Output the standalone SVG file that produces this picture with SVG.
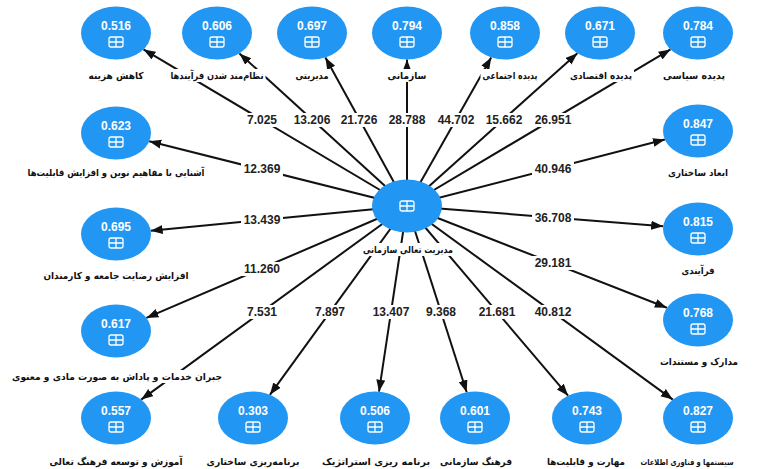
<svg xmlns="http://www.w3.org/2000/svg" xmlns:xlink="http://www.w3.org/1999/xlink" width="760" height="469" viewBox="0 0 760 469">
<style>
.nd{fill:#2196f3}
.val{font-family:"Liberation Sans",Arial,sans-serif;font-weight:bold;font-size:12px;fill:#ffffff;text-anchor:middle}
.lab{font-family:"DejaVu Sans",sans-serif;font-weight:bold;font-size:9.5px;fill:#111;text-anchor:middle}
.el{font-family:"Liberation Sans",Arial,sans-serif;font-weight:bold;font-size:12px;fill:#222;text-anchor:middle}
.ln{stroke:#111;stroke-width:2;fill:none;marker-end:url(#ah)}
.bg{fill:#ffffff}
</style>
<defs>
<marker id="ah" markerUnits="userSpaceOnUse" markerWidth="13" markerHeight="10" refX="12" refY="4.5" orient="auto">
<path d="M0,0 L12,4.5 L0,9 z" fill="#111"/>
</marker>
<g id="plus">
<rect x="-7" y="-5" width="14" height="10" rx="2" fill="none" stroke="#fff" stroke-width="1.3"/>
<path d="M0,-5 V5 M-7,0 H7" stroke="#fff" stroke-width="1.3"/>
</g>
</defs>
<rect width="760" height="469" fill="#ffffff"/>
<g id="connectors">
<line class="ln" x1="407" y1="206" x2="143.5" y2="49.4"/>
<line class="ln" x1="407" y1="206" x2="239.4" y2="53.4"/>
<line class="ln" x1="407" y1="206" x2="325.4" y2="57.5"/>
<line class="ln" x1="407" y1="206" x2="407" y2="59.5"/>
<line class="ln" x1="407" y1="206" x2="491.2" y2="57.4"/>
<line class="ln" x1="407" y1="206" x2="577.4" y2="53.2"/>
<line class="ln" x1="407" y1="206" x2="670.5" y2="49.4"/>
<line class="ln" x1="407" y1="206" x2="664.9" y2="139.5"/>
<line class="ln" x1="407" y1="206" x2="663.2" y2="226.2"/>
<line class="ln" x1="407" y1="206" x2="666.9" y2="307.8"/>
<line class="ln" x1="407" y1="206" x2="672.8" y2="399.6"/>
<line class="ln" x1="407" y1="206" x2="568.1" y2="395.7"/>
<line class="ln" x1="407" y1="206" x2="466.7" y2="392.2"/>
<line class="ln" x1="407" y1="206" x2="379" y2="391.7"/>
<line class="ln" x1="407" y1="206" x2="269.9" y2="394.8"/>
<line class="ln" x1="407" y1="206" x2="141.2" y2="399.6"/>
<line class="ln" x1="407" y1="206" x2="146.4" y2="317.9"/>
<line class="ln" x1="407" y1="206" x2="150.7" y2="230.7"/>
<line class="ln" x1="407" y1="206" x2="149.2" y2="141.3"/>
<g id="edge-labels">
<rect class="bg" x="244" y="113" width="36" height="14"/><text class="el" x="262" y="124">7.025</text>
<rect class="bg" x="291" y="113" width="42" height="14"/><text class="el" x="312" y="124">13.206</text>
<rect class="bg" x="338" y="113" width="42" height="14"/><text class="el" x="359" y="124">21.726</text>
<rect class="bg" x="386" y="113" width="42" height="14"/><text class="el" x="407" y="124">28.788</text>
<rect class="bg" x="435" y="113" width="42" height="14"/><text class="el" x="456" y="124">44.702</text>
<rect class="bg" x="483" y="113" width="42" height="14"/><text class="el" x="504" y="124">15.662</text>
<rect class="bg" x="532" y="113" width="42" height="14"/><text class="el" x="553" y="124">26.951</text>
<rect class="bg" x="532" y="162" width="42" height="14"/><text class="el" x="553" y="173">40.946</text>
<rect class="bg" x="532" y="211" width="42" height="14"/><text class="el" x="553" y="222">36.708</text>
<rect class="bg" x="532" y="256" width="42" height="14"/><text class="el" x="553" y="267">29.181</text>
<rect class="bg" x="532" y="305" width="42" height="14"/><text class="el" x="553" y="316">40.812</text>
<rect class="bg" x="476" y="305" width="42" height="14"/><text class="el" x="497" y="316">21.681</text>
<rect class="bg" x="423" y="305" width="36" height="14"/><text class="el" x="441" y="316">9.368</text>
<rect class="bg" x="370" y="305" width="42" height="14"/><text class="el" x="391" y="316">13.407</text>
<rect class="bg" x="312" y="305" width="36" height="14"/><text class="el" x="330" y="316">7.897</text>
<rect class="bg" x="244" y="305" width="36" height="14"/><text class="el" x="262" y="316">7.531</text>
<rect class="bg" x="241" y="262" width="42" height="14"/><text class="el" x="262" y="273">11.260</text>
<rect class="bg" x="241" y="213" width="42" height="14"/><text class="el" x="262" y="224">13.439</text>
<rect class="bg" x="241" y="162" width="42" height="14"/><text class="el" x="262" y="173">12.369</text>
</g>
</g>
<g id="n-center" transform="translate(407,206)"><ellipse class="nd" rx="35" ry="26.5"/><use href="#plus"/><rect class="bg" x="-46" y="37" width="94" height="13"/><text class="lab" x="1" y="47" textLength="90" lengthAdjust="spacingAndGlyphs">مدیریت تعالی سازمانی</text></g>
<g id="n-hazine" transform="translate(116,33)"><ellipse class="nd" rx="35" ry="26.5"/><text class="val" y="-3">0.516</text><use href="#plus" y="9"/><rect class="bg" x="-29.5" y="36" width="59" height="13"/><text class="lab" y="46" textLength="55" lengthAdjust="spacingAndGlyphs">کاهش هزینه</text></g>
<g id="n-nezam" transform="translate(217,33)"><ellipse class="nd" rx="35" ry="26.5"/><text class="val" y="-3">0.606</text><use href="#plus" y="9"/><rect class="bg" x="-48.5" y="36" width="97" height="13"/><text class="lab" y="46" textLength="93" lengthAdjust="spacingAndGlyphs">نظام‌مند شدن فرآیندها</text></g>
<g id="n-modiriyati" transform="translate(312,33)"><ellipse class="nd" rx="35" ry="26.5"/><text class="val" y="-3">0.697</text><use href="#plus" y="9"/><rect class="bg" x="-18.5" y="36" width="37" height="13"/><text class="lab" y="46" textLength="33" lengthAdjust="spacingAndGlyphs">مدیریتی</text></g>
<g id="n-sazmani" transform="translate(407,33)"><ellipse class="nd" rx="35" ry="26.5"/><text class="val" y="-3">0.794</text><use href="#plus" y="9"/><rect class="bg" x="-21.5" y="36" width="43" height="13"/><text class="lab" y="46" textLength="39" lengthAdjust="spacingAndGlyphs">سازمانی</text></g>
<g id="n-ejtemai" transform="translate(505,33)"><ellipse class="nd" rx="35" ry="26.5"/><text class="val" y="-3">0.858</text><use href="#plus" y="9"/><rect class="bg" x="-24.5" y="36" width="59" height="13"/><text class="lab" x="5" y="46" textLength="55" lengthAdjust="spacingAndGlyphs">پدیده اجتماعی</text></g>
<g id="n-eghtesadi" transform="translate(600,33)"><ellipse class="nd" rx="35" ry="26.5"/><text class="val" y="-3">0.671</text><use href="#plus" y="9"/><rect class="bg" x="-32" y="36" width="66" height="13"/><text class="lab" x="1" y="46" textLength="62" lengthAdjust="spacingAndGlyphs">پدیده اقتصادی</text></g>
<g id="n-siasi" transform="translate(698,33)"><ellipse class="nd" rx="35" ry="26.5"/><text class="val" y="-3">0.784</text><use href="#plus" y="9"/><rect class="bg" x="-37" y="36" width="66" height="13"/><text class="lab" x="-4" y="46" textLength="62" lengthAdjust="spacingAndGlyphs">پدیده سیاسی</text></g>
<g id="n-abad" transform="translate(698,131)"><ellipse class="nd" rx="35" ry="26.5"/><text class="val" y="-3">0.847</text><use href="#plus" y="9"/><rect class="bg" x="-32" y="35" width="64" height="13"/><text class="lab" y="45" textLength="60" lengthAdjust="spacingAndGlyphs">ابعاد ساختاری</text></g>
<g id="n-farayandi" transform="translate(698,229)"><ellipse class="nd" rx="35" ry="26.5"/><text class="val" y="-3">0.815</text><use href="#plus" y="9"/><rect class="bg" x="-18.5" y="35" width="37" height="13"/><text class="lab" y="45" textLength="33" lengthAdjust="spacingAndGlyphs">فرآیندی</text></g>
<g id="n-madarek" transform="translate(698,320)"><ellipse class="nd" rx="35" ry="26.5"/><text class="val" y="-3">0.768</text><use href="#plus" y="9"/><rect class="bg" x="-40" y="35" width="82" height="13"/><text class="lab" x="1" y="45" textLength="78" lengthAdjust="spacingAndGlyphs">مدارک و مستندات</text></g>
<g id="n-system" transform="translate(698,418)"><ellipse class="nd" rx="35" ry="26.5"/><text class="val" y="-3">0.827</text><use href="#plus" y="9"/><rect class="bg" x="-59.5" y="37" width="97" height="13"/><text class="lab" x="-11" y="47" style="font-size:8.5px" textLength="93" lengthAdjust="spacingAndGlyphs">سیستمها و فناوری اطلاعات</text></g>
<g id="n-maharat" transform="translate(587,418)"><ellipse class="nd" rx="35" ry="26.5"/><text class="val" y="-3">0.743</text><use href="#plus" y="9"/><rect class="bg" x="-42" y="37" width="82" height="13"/><text class="lab" x="-1" y="47" textLength="78" lengthAdjust="spacingAndGlyphs">مهارت و قابلیت‌ها</text></g>
<g id="n-farhang" transform="translate(475,418)"><ellipse class="nd" rx="35" ry="26.5"/><text class="val" y="-3">0.601</text><use href="#plus" y="9"/><rect class="bg" x="-37" y="37" width="76" height="13"/><text class="lab" x="1" y="47" textLength="72" lengthAdjust="spacingAndGlyphs">فرهنگ سازمانی</text></g>
<g id="n-strategic" transform="translate(375,418)"><ellipse class="nd" rx="35" ry="26.5"/><text class="val" y="-3">0.506</text><use href="#plus" y="9"/><rect class="bg" x="-55" y="37" width="112" height="13"/><text class="lab" x="1" y="47" textLength="108" lengthAdjust="spacingAndGlyphs">برنامه ریزی استراتژیک</text></g>
<g id="n-sakhtari" transform="translate(253,418)"><ellipse class="nd" rx="35" ry="26.5"/><text class="val" y="-3">0.303</text><use href="#plus" y="9"/><rect class="bg" x="-48.5" y="37" width="97" height="13"/><text class="lab" y="47" textLength="93" lengthAdjust="spacingAndGlyphs">برنامه‌ریزی ساختاری</text></g>
<g id="n-amoozesh" transform="translate(116,418)"><ellipse class="nd" rx="35" ry="26.5"/><text class="val" y="-3">0.557</text><use href="#plus" y="9"/><rect class="bg" x="-68.5" y="37" width="137" height="13"/><text class="lab" y="47" textLength="133" lengthAdjust="spacingAndGlyphs">آموزش و توسعه فرهنگ تعالی</text></g>
<g id="n-jobran" transform="translate(116,331)"><ellipse class="nd" rx="35" ry="26.5"/><text class="val" y="-3">0.617</text><use href="#plus" y="9"/><rect class="bg" x="-106" y="39" width="214" height="13"/><text class="lab" x="1" y="49" textLength="210" lengthAdjust="spacingAndGlyphs">جبران خدمات و پاداش به صورت مادی و معنوی</text></g>
<g id="n-rezayat" transform="translate(116,234)"><ellipse class="nd" rx="35" ry="26.5"/><text class="val" y="-3">0.695</text><use href="#plus" y="9"/><rect class="bg" x="-74.5" y="35" width="149" height="13"/><text class="lab" y="45" textLength="145" lengthAdjust="spacingAndGlyphs">افزایش رضایت جامعه و کارمندان</text></g>
<g id="n-ashnayi" transform="translate(116,133)"><ellipse class="nd" rx="35" ry="26.5"/><text class="val" y="-3">0.623</text><use href="#plus" y="9"/><rect class="bg" x="-90.5" y="33" width="181" height="13"/><text class="lab" y="43" textLength="177" lengthAdjust="spacingAndGlyphs">آشنایی با مفاهیم نوین و افزایش قابلیت‌ها</text></g>
</svg>
